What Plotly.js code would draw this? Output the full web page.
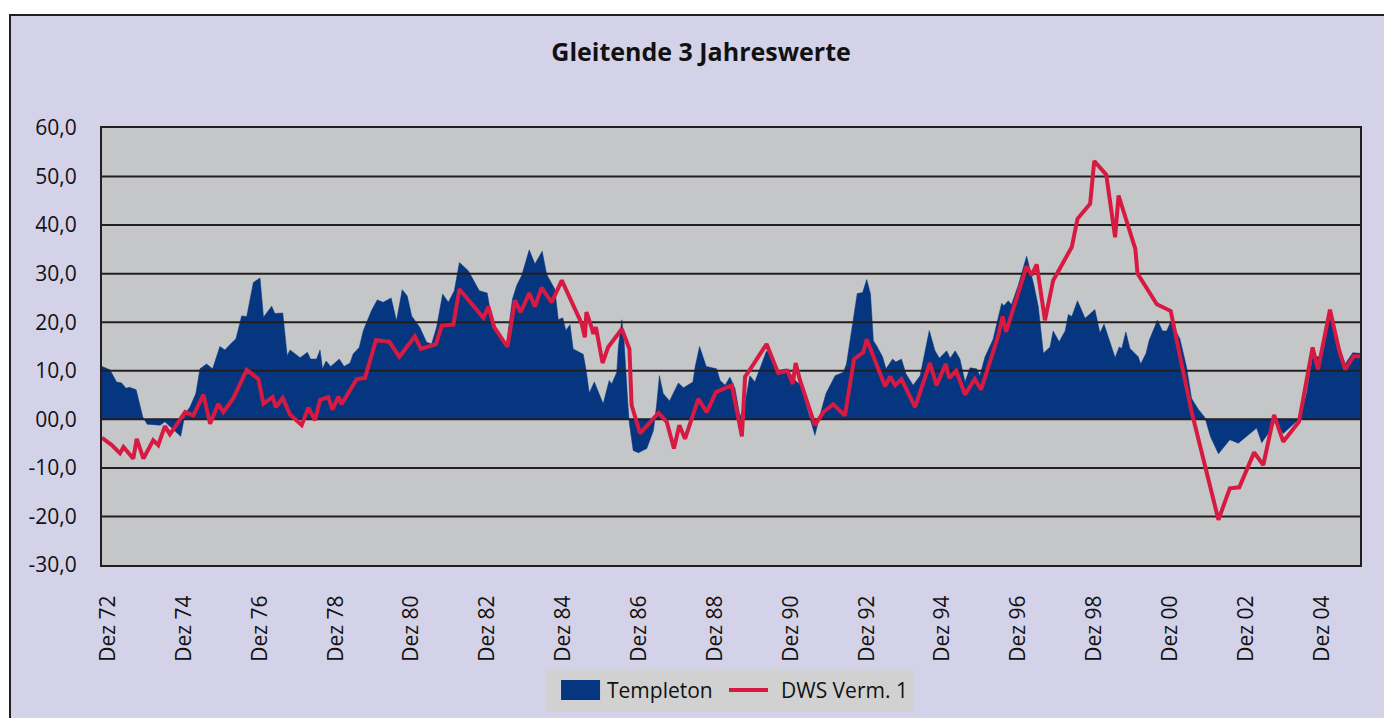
<!DOCTYPE html>
<html><head><meta charset="utf-8">
<script src="https://cdn.plot.ly/plotly-3.0.1.min.js"></script>
<style>
html,body{margin:0;padding:0;background:#ffffff;width:1384px;height:718px;overflow:hidden}
#frame{position:absolute;left:9px;top:14px;width:1373px;height:702px;border-left:2px solid #231f20;border-top:2px solid #231f20;background:#D4D2E8}
#chart{width:1373px;height:702px}
</style></head><body>
<div id="frame"><div id="chart"></div></div>
<script>
// x = months since October 1972 (monthly category axis)
const templetonMonths = [0,2.5,4.6,6.2,7.6,8.7,10.8,11.8,12.9,14.3,18.4,19.9,21.5,23.1,24.9,26.3,27.8,29.7,31.0,33.1,35.0,37.3,38.9,40.5,42.4,44.2,45.8,47.9,50.0,51.1,53.7,54.7,57.2,58.6,59.5,62.7,65.0,66.0,67.9,69.0,69.8,70.9,72.4,75.1,76.6,78.5,79.5,81.4,82.7,85.3,87.1,89.0,91.5,93.2,95.0,96.6,98.0,100.6,
102.7,104.3,105.9,107.8,109.6,111.5,113.1,115.9,119.4,121.9,123.3,124.9,128.0,129.9,131.2,132.8,135.2,137.0,139.3,140.7,143.3,144.4,145.8,146.8,148.1,149.1,152.3,153.2,154.2,155.8,158.6,160.5,161.3,162.9,163.4,164.5,165.2,166.4,166.9,168.1,169.7,172.4,174.5,175.5,176.4,177.6,179.6,182.4,184.0,187.0,187.7,189.1,191.2,
194.5,195.6,197.2,198.7,200.3,201.9,203.5,205.0,206.6,208.2,210.3,211.9,214.0,216.7,219.8,220.9,225.6,227.2,229.1,232.0,234.6,235.6,237.8,239.0,240.7,242.0,243.2,244.1,245.1,247.0,248.1,250.2,251.2,253.0,254.4,256.7,258.9,261.8,263.6,265.0,267.3,268.4,270.0,271.5,273.1,274.7,276.8,277.8,279.4,282.0,284.7,285.4,286.8,287.8,289.9,292.6,
294.8,296.3,297.9,300.0,301.0,302.9,304.8,305.8,306.9,308.7,311.1,314.2,315.8,317.1,320.6,321.9,322.7,324.0,325.3,327.9,328.7,330.4,331.4,334.0,335.6,336.9,338.2,341.1,343.2,344.8,346.9,349.0,350.8,353.3,356.9,359.6,362.8,365.4,367.0,369.8,371.2,373.8,379.1,381.2,383.1,385.5,388.6,390.8,393.4,395.8,398.1];
const templetonValues = [10.9,10.2,7.7,7.5,6.4,6.6,6.1,3.6,0.5,-1.0,-1.2,-0.5,-1.4,-2.3,-3.5,1.2,2.5,5.3,10.4,11.4,10.4,15.0,14.3,15.4,16.6,21.3,21.2,28.2,29.1,21.0,23.3,21.8,21.9,13.1,14.3,12.7,13.8,12.4,12.4,14.3,10.4,12.0,10.9,12.4,10.9,11.6,13.5,14.8,18.3,22.4,24.6,24.1,25.0,20.3,26.7,25.4,21.3,18.9,
15.9,15.5,19.0,25.8,24.1,26.5,32.3,30.6,26.5,26.0,20.7,18.3,15.5,24.8,27.5,29.6,34.9,32.0,34.6,29.9,26.8,20.5,20.9,18.3,19.5,14.5,13.4,10.1,5.4,7.7,3.2,8.0,7.3,9.7,14.9,20.5,16.2,3.2,-0.9,-6.4,-6.9,-6.0,-2.3,2.9,9.0,5.3,3.8,7.5,6.5,7.7,10.8,15.0,10.9,
10.4,8.0,7.0,8.7,6.4,0.5,3.2,9.0,7.7,10.4,14.1,12.8,10.0,10.4,7.7,7.3,-3.3,0.8,5.3,9.0,9.7,11.4,20.3,25.9,26.1,28.8,25.8,16.2,15.2,12.9,10.4,12.4,11.8,12.4,9.4,7.0,9.0,18.3,14.1,12.6,14.1,12.6,14.1,12.4,7.7,10.6,10.4,9.0,12.8,16.5,23.9,23.4,24.4,23.6,27.5,33.6,
27.9,23.2,13.6,14.9,18.2,16.0,18.2,21.6,21.2,24.4,20.8,22.6,17.8,19.6,12.7,14.9,14.6,18.0,14.6,12.9,11.4,13.6,16.3,20.4,18.2,18.2,20.1,16.6,10.8,4.3,2.1,0.4,-3.6,-7.1,-4.2,-4.9,-3.2,-1.8,-4.8,-2.2,-0.5,-2.9,0.2,5.3,12.9,12.9,20.8,16.3,11.4,13.7,13.6];

const dwsMonths = [0,3.1,5.7,6.8,9.9,11.0,13.1,16.2,17.8,19.9,21.5,23.6,26.3,28.9,32.1,34.2,36.8,38.4,41.6,45.8,49.5,51.1,54.0,55.0,57.2,59.5,63.2,65.3,67.4,69.0,71.6,72.9,74.8,75.8,80.6,83.2,86.7,90.9,94.1,99.0,100.9,
105.7,107.5,111.2,113.1,120.7,122.3,124.1,128.3,130.7,132.5,135.2,137.0,139.1,142.3,145.5,149.1,151.8,152.8,153.3,154.9,155.5,156.3,158.4,160.2,164.5,166.9,167.6,170.3,176.1,178.7,181.0,182.7,184.5,188.7,191.4,194.3,
199.3,202.5,203.5,205.0,210.3,214.0,216.9,218.6,219.5,220.9,225.6,228.3,231.4,235.1,238.0,240.9,242.0,247.8,249.4,251.0,253.0,257.3,262.0,264.1,267.0,268.1,270.3,273.1,276.2,278.2,283.6,285.0,286.1,
292.6,294.2,295.8,298.4,301.0,306.9,308.7,312.7,314.0,317.8,320.6,321.7,327.0,327.7,333.8,338.2,341.7,344.8,353.3,356.9,359.9,364.6,367.5,370.9,373.8,378.8,383.1,384.8,388.6,391.5,393.4,396.1,398.1];
const dwsValues = [-3.8,-5.3,-7.0,-5.7,-8.1,-4.0,-8.1,-4.3,-5.3,-1.4,-3.1,-1.0,1.5,0.8,5.1,-0.9,3.2,1.5,4.4,10.2,8.3,3.2,4.6,2.5,4.4,1.0,-1.2,2.4,-0.2,4.0,4.6,2.0,4.7,3.1,8.3,8.5,16.3,16.0,12.9,17.1,14.5,
15.5,19.3,19.5,26.8,20.9,23.2,19.0,14.9,24.5,22.1,26.0,23.2,27.1,24.1,28.6,23.4,19.7,16.9,22.1,19.0,17.6,19.0,11.6,14.9,18.6,14.5,2.9,-2.9,1.3,-0.5,-6.0,-1.2,-4.0,4.2,1.5,5.6,
7.0,-3.5,8.8,10.2,15.5,9.5,10.0,7.3,11.6,8.0,-1.2,1.5,3.1,0.8,12.4,13.8,16.5,6.8,8.8,7.0,8.3,2.5,11.6,7.0,11.4,8.5,10.0,5.1,8.3,6.1,17.2,21.2,18.0,
31.5,29.7,31.9,20.4,28.6,35.5,41.3,44.4,53.2,50.4,37.5,46.1,35.1,30.0,23.7,22.3,11.2,1.6,-20.7,-14.2,-14.0,-6.8,-9.4,0.9,-4.6,-0.5,14.8,10.3,22.6,14.2,10.3,13.0,13.0];

const tickMonths = [2,26,50,74,98,122,146,170,194,218,242,266,290,314,338,362,386];
const tickLabels = ['Dez 72','Dez 74','Dez 76','Dez 78','Dez 80','Dez 82','Dez 84','Dez 86','Dez 88','Dez 90','Dez 92','Dez 94','Dez 96','Dez 98','Dez 00','Dez 02','Dez 04'];
const yTickVals = [-30,-20,-10,0,10,20,30,40,50,60];
const yTickText = ['-30,0','-20,0','-10,0','00,0','10,0','20,0','30,0','40,0','50,0','60,0'];
const seriesNames = ['Templeton','DWS Verm. 1'];
const xRange = [0,398.1];

const FONT = 'Open Sans, Noto Sans, sans-serif';
const BLUE = '#05367F', RED = '#D71A42', INK = '#231f20';

// horizontal grid lines drawn between the area and the line
const gridX = [], gridY = [];
yTickVals.slice(1, -1).forEach(v => { gridX.push(xRange[0], xRange[1], null); gridY.push(v, v, null); });

const traces = [
  {x: templetonMonths, y: templetonValues, type:'scatter', mode:'lines', fill:'tozeroy',
   fillcolor: BLUE, line:{color: BLUE, width:0.5}, name: seriesNames[0], hoverinfo:'skip'},
  {x: gridX, y: gridY, type:'scatter', mode:'lines', line:{color: INK, width:2},
   showlegend:false, hoverinfo:'skip'},
  {x: dwsMonths, y: dwsValues, type:'scatter', mode:'lines', line:{color: RED, width:4},
   name: seriesNames[1], hoverinfo:'skip'}
];

const layout = {
  width:1373, height:702,
  paper_bgcolor:'#D4D2E8', plot_bgcolor:'#C5C6C8',
  margin:{l:91, r:24, t:112, b:153},
  showlegend:false,
  font:{family: FONT, size:21, color:'#111'},
  title:{text:'Gleitende 3 Jahreswerte', font:{family: FONT, size:25, color:'#111', weight:700},
         xref:'container', x:0.5026, xanchor:'center', yref:'container', y:0.948, yanchor:'middle'},
  xaxis:{range: xRange, tickvals: tickMonths, ticktext: tickLabels, tickangle:-90,
         showgrid:false, zeroline:false, showline:true, mirror:true, linecolor: INK, linewidth:2,
         ticks:'', ticklabelstandoff:20, tickfont:{family: FONT, size:21, color:'#111'}},
  yaxis:{range:[-30,60], tickvals: yTickVals, ticktext: yTickText,
         showgrid:false, zeroline:false, showline:true, mirror:true, linecolor: INK, linewidth:2,
         ticks:'', ticklabelstandoff:19, tickfont:{family: FONT, size:21, color:'#111'}},
  shapes:[
    {type:'rect', xref:'paper', yref:'paper', x0:0.3529, x1:0.6447, y0:-0.3364, y1:-0.238,
     fillcolor:'#D1D1D1', line:{width:0}},
    {type:'rect', xref:'paper', yref:'paper', x0:0.3649, x1:0.3959, y0:-0.3089, y1:-0.2632,
     fillcolor: BLUE, line:{width:0}},
    {type:'line', xref:'paper', yref:'paper', x0:0.4984, x1:0.5294, y0:-0.286, y1:-0.286,
     line:{color: RED, width:4}}
  ],
  annotations:[
    {text: seriesNames[0], xref:'paper', yref:'paper', x:0.3998, y:-0.2855, xanchor:'left', yanchor:'middle',
     showarrow:false, font:{family: FONT, size:21, color:'#111'}},
    {text: seriesNames[1], xref:'paper', yref:'paper', x:0.5382, y:-0.2855, xanchor:'left', yanchor:'middle',
     showarrow:false, font:{family: FONT, size:21, color:'#111'}}
  ]
};

Plotly.newPlot('chart', traces, layout, {displayModeBar:false, staticPlot:true});
</script></body></html>
